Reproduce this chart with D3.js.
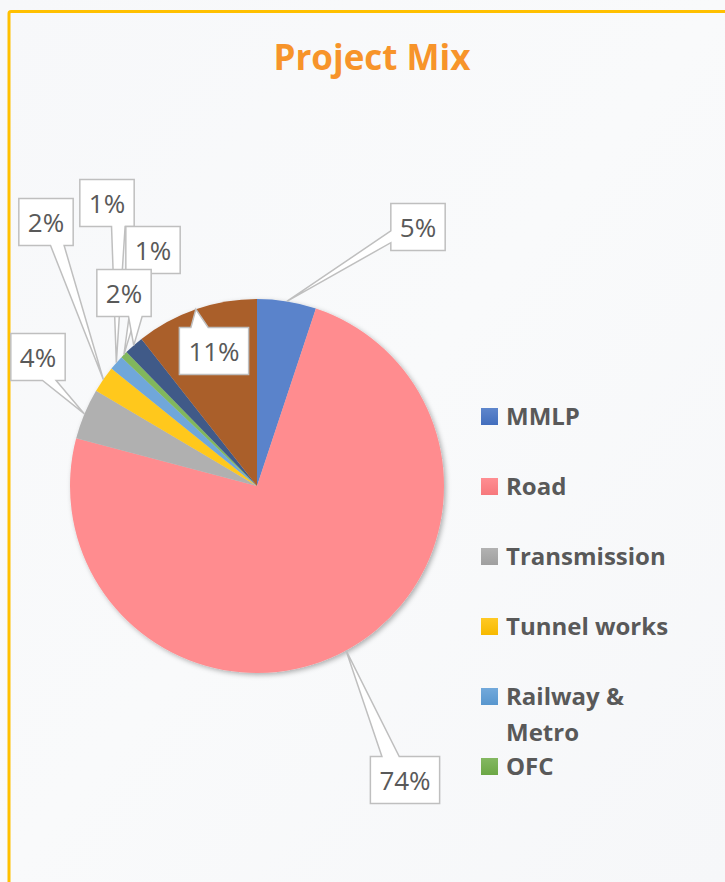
<!DOCTYPE html>
<html>
<head>
<meta charset="utf-8">
<script src="https://cdn.jsdelivr.net/npm/d3@7"></script>
<style>
html,body{margin:0;padding:0;background:#f8f9fb;}
svg{display:block;}
</style>
</head>
<body>
<svg id="chart" width="725" height="882"></svg>
<script>
// ---- data ----
const categories = ["MMLP", "Road", "Transmission", "Tunnel works", "Railway & Metro", "OFC", "Others A", "Others B"];
const shares = [5.1, 74.0, 4.4, 2.3, 1.3, 0.6, 1.7, 10.6];
const colors = ["#4472c4", "#ff7c80", "#a5a5a5", "#ffc000", "#5b9bd5", "#70ad47", "#264478", "#9e480e"];
const titleText = "Project Mix";
const legendCount = 6; // entries that fit in the legend area

// ---- layout ----
const W = 725, H = 882;
const cx = 257, cy = 486, R = 187;
// label box centres (layout only)
const labelCenters = [[418, 227], [405, 780], [38, 357], [46, 222], [107, 203], [153, 250], [124, 293], [214, 351]];
const boxH = 47, boxPad = 9;

const svg = d3.select("#chart");
const defs = svg.append("defs");

function lighten(c, k) { return d3.interpolateRgb(c, "#ffffff")(k); }

colors.forEach((c, i) => {
  const g = defs.append("linearGradient").attr("id", "g" + i)
    .attr("gradientUnits", "userSpaceOnUse")
    .attr("x1", 0).attr("x2", 0).attr("y1", cy - R).attr("y2", cy + R);
  g.append("stop").attr("offset", "0%").attr("stop-color", lighten(c, 0.12));
  g.append("stop").attr("offset", "40%").attr("stop-color", c);
  g.append("stop").attr("offset", "100%").attr("stop-color", d3.color(c).darker(0.06));
  const gl = defs.append("linearGradient").attr("id", "gl" + i)
    .attr("x1", 0).attr("x2", 0).attr("y1", 0).attr("y2", 1);
  gl.append("stop").attr("offset", "0%").attr("stop-color", lighten(c, 0.14));
  gl.append("stop").attr("offset", "100%").attr("stop-color", d3.color(c).darker(0.1));
});

const bgGrad = defs.append("linearGradient").attr("id", "bg")
  .attr("x1", 0).attr("y1", 0).attr("x2", 1).attr("y2", 1);
bgGrad.append("stop").attr("offset", "0%").attr("stop-color", "#f7f8fa");
bgGrad.append("stop").attr("offset", "50%").attr("stop-color", "#f9fafb");
bgGrad.append("stop").attr("offset", "100%").attr("stop-color", "#f6f7f9");

const shadow = defs.append("filter").attr("id", "shadow")
  .attr("x", "-10%").attr("y", "-10%").attr("width", "125%").attr("height", "125%");
shadow.append("feDropShadow").attr("dx", 2).attr("dy", 2).attr("stdDeviation", 2.5)
  .attr("flood-color", "#000").attr("flood-opacity", 0.3);

// background + border
svg.append("rect").attr("x", 0).attr("y", 0).attr("width", W).attr("height", H).attr("fill", "url(#bg)");
svg.append("rect").attr("x", 9).attr("y", 11.5).attr("width", W + 20).attr("height", H + 20)
  .attr("rx", 2).attr("fill", "none").attr("stroke", "#ffc000").attr("stroke-width", 3);

// title
svg.append("text").attr("x", 372).attr("y", 70).attr("text-anchor", "middle")
  .attr("font-family", "'Open Sans', sans-serif").attr("font-weight", 700)
  .attr("font-size", 35).attr("fill", "#f7942a").text(titleText);

// pie (drawn in absolute coordinates so gradients line up)
const pie = d3.pie().sort(null).value(d => d)(shares);
const arc = d3.arc().innerRadius(0).outerRadius(R);
svg.append("g").attr("filter", "url(#shadow)")
  .selectAll("path").data(pie).join("path")
  .attr("d", arc)
  .attr("fill", (d, i) => `url(#g${i})`)
  .attr("transform", `translate(${cx},${cy})`);

// callout labels
const total = d3.sum(shares);
const fmt = v => Math.round(v / total * 100) + "%";
const gLab = svg.append("g");

function calloutPath(l, t, w, h, tx, ty) {
  const r = l + w, b = t + h, hc = l + w / 2, vc = t + h / 2;
  const dxPos = tx - hc, dyPos = ty - vc;
  const dq = dxPos * h / w;
  const dz = Math.abs(dyPos) - Math.abs(dq);
  const x1 = l + w * (dxPos > 0 ? 7 : 2) / 12, x2 = l + w * (dxPos > 0 ? 10 : 5) / 12;
  const y1 = t + h * (dyPos > 0 ? 7 : 2) / 12, y2 = t + h * (dyPos > 0 ? 10 : 5) / 12;
  const side = dz > 0 ? (dyPos > 0 ? "b" : "t") : (dxPos > 0 ? "r" : "l");
  const p = d3.path();
  p.moveTo(l, t); p.lineTo(x1, t); if (side === "t") p.lineTo(tx, ty); p.lineTo(x2, t); p.lineTo(r, t);
  p.lineTo(r, y1); if (side === "r") p.lineTo(tx, ty); p.lineTo(r, y2); p.lineTo(r, b);
  p.lineTo(x2, b); if (side === "b") p.lineTo(tx, ty); p.lineTo(x1, b); p.lineTo(l, b);
  p.lineTo(l, y2); if (side === "l") p.lineTo(tx, ty); p.lineTo(l, y1); p.closePath();
  return p.toString();
}

pie.forEach((d, i) => {
  const mid = (d.startAngle + d.endAngle) / 2;
  const tx = cx + R * Math.sin(mid), ty = cy - R * Math.cos(mid);
  const [bx, by] = labelCenters[i];
  const txt = gLab.append("text").attr("x", bx).attr("y", by + 10)
    .attr("text-anchor", "middle")
    .attr("font-family", "'Open Sans', sans-serif").attr("font-size", 26)
    .attr("fill", "#595959").text(fmt(d.data));
  const tw = txt.node().getComputedTextLength();
  const w = tw + 2 * boxPad;
  gLab.insert("path", "text")
    .attr("d", calloutPath(bx - w / 2, by - boxH / 2, w, boxH, tx, ty))
    .attr("fill", "#ffffff").attr("stroke", "#bfbfbf").attr("stroke-width", 1.5)
    .attr("stroke-linejoin", "miter");
});

// legend
const legX = 481, legY0 = 408, legStep = 70, sw = 17, lineH = 36, wrapW = 180;
const gLeg = svg.append("g");
categories.slice(0, legendCount).forEach((name, i) => {
  const y = legY0 + i * legStep;
  gLeg.append("rect").attr("x", legX).attr("y", y).attr("width", sw).attr("height", sw)
    .attr("fill", `url(#gl${i})`);
  const t = gLeg.append("text").attr("x", legX + 25).attr("y", y + sw)
    .attr("font-family", "'Open Sans', sans-serif").attr("font-weight", 700)
    .attr("font-size", 24).attr("fill", "#595959");
  const words = name.split(" ");
  let line = [];
  let ts = t.append("tspan").attr("x", legX + 25).attr("dy", 0);
  words.forEach(wd => {
    line.push(wd);
    ts.text(line.join(" "));
    if (ts.node().getComputedTextLength() > wrapW && line.length > 1) {
      line.pop(); ts.text(line.join(" "));
      line = [wd];
      ts = t.append("tspan").attr("x", legX + 25).attr("dy", lineH).text(wd);
    }
  });
});
</script>
</body>
</html>
